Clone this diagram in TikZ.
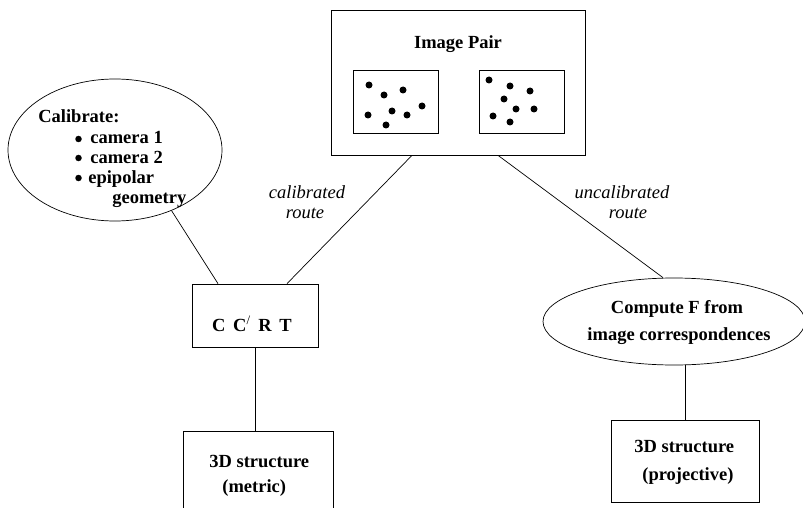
\documentclass[tikz,border=0pt]{standalone}
\usepackage{fontspec}
\setmainfont{Liberation Serif}
\usetikzlibrary{shapes.geometric}
\begin{document}
\begin{tikzpicture}[x=1pt,y=-1pt,line width=0.7pt,
  box/.style={draw,rectangle,inner sep=0pt},
  oval/.style={draw,ellipse,inner sep=0pt},
  btxt/.style={font=\fontsize{18.5}{22}\selectfont\bfseries,inner sep=0pt},
  itxt/.style={font=\fontsize{18.5}{22}\selectfont\itshape,inner sep=0pt},
  dot/.style={circle,fill=black,inner sep=0pt,minimum size=7pt}]
\useasboundingbox (0,0) rectangle (803,508);

% Image pair
\node[box,minimum width=254pt,minimum height=145pt] (img) at (458,82.5) {};
\node[btxt,anchor=base] (imgt) at (458,49) {Image Pair};
\node[box,minimum width=85pt,minimum height=63pt] (left) at (395.5,101.5) {};
\node[box,minimum width=85pt,minimum height=63pt] (right) at (521.5,101.5) {};
\foreach \p [count=\i] in {(369,85),(384,95),(403,90),(368,115),(392,111),(407,115),(422,106),(386,125)}
  \node[dot] (l\i) at \p {};
\foreach \p [count=\i] in {(489,80),(510,86),(530,91),(504,99),(516,109),(534,109),(493,116),(510,122)}
  \node[dot] (r\i) at \p {};

% Calibrate ellipse
\node[oval,minimum width=214pt,minimum height=142pt] (cal) at (115,150) {};
\node[btxt,anchor=base west] (c0) at (38,123) {Calibrate:};
\node[dot,minimum size=6.5pt] (b1) at (78.5,139) {};
\node[dot,minimum size=6.5pt] (b2) at (78.5,158) {};
\node[dot,minimum size=6.5pt] (b3) at (78.5,178) {};
\node[btxt,anchor=base west] (c1) at (90,144) {camera 1};
\node[btxt,anchor=base west] (c2) at (90,164) {camera 2};
\node[btxt,anchor=base west] (c3) at (88,183) {epipolar};
\node[btxt,anchor=base west] (c4) at (112,203) {geometry};

% CCRT box
\node[box,minimum width=126pt,minimum height=63pt] (ccrt) at (255,315.5) {};
\node[btxt,anchor=base] (ccrtt) at (252,331) {C\, C\textsuperscript{\mdseries/}\, R\, T};

% 3D metric
\node[box,minimum width=150pt,minimum height=89pt] (metric) at (258,475.5) {};
\node[btxt,anchor=base west] (m1) at (209,467) {3D structure};
\node[btxt,anchor=base west] (m2) at (222,492) {(metric)};

% Compute F ellipse
\node[oval,minimum width=262pt,minimum height=87pt] (cf) at (674,321.5) {};
\node[btxt,anchor=base] (cf1) at (677,313) {Compute F from};
\node[btxt,anchor=base] (cf2) at (679,340) {image correspondences};

% 3D projective
\node[box,minimum width=148pt,minimum height=82pt] (proj) at (685,461) {};
\node[btxt,anchor=base west] (p1) at (634,452) {3D structure};
\node[btxt,anchor=base west] (p2) at (642,480) {(projective)};

% route labels
\node[itxt,anchor=base] (cr1) at (307,198) {calibrated};
\node[itxt,anchor=base] (cr2) at (305,218) {route};
\node[itxt,anchor=base] (ur1) at (622,198) {uncalibrated};
\node[itxt,anchor=base] (ur2) at (628,218) {route};

% connectors
\draw ([xshift=-46pt]img.south) -- ([xshift=32pt]ccrt.north);
\draw ([xshift=40pt]img.south) -- ([xshift=-11pt]cf.north);
\draw (cal.-47) -- ([xshift=-37pt]ccrt.north);
\draw (ccrt.south) -- (ccrt.south |- metric.north);
\draw (proj.north) -- (proj.north |- cf.south);
\end{tikzpicture}
\end{document}
